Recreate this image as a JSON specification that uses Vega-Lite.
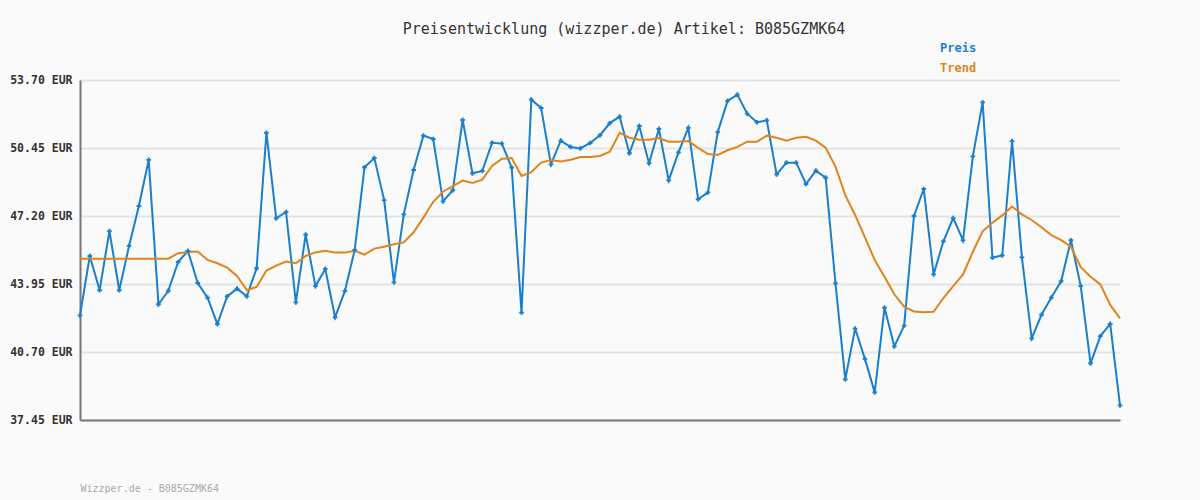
{
  "$schema": "https://vega.github.io/schema/vega-lite/v6.json",
  "width": 1040,
  "height": 340,
  "autosize": {"type": "none"},
  "padding": {"left": 80, "top": 80, "right": 80, "bottom": 80},
  "background": "#fafafa",
  "title": {
    "text": "Preisentwicklung (wizzper.de) Artikel: B085GZMK64",
    "font": "DejaVu Sans Mono",
    "fontSize": 15,
    "fontWeight": "normal",
    "color": "#333333",
    "anchor": "middle",
    "frame": "group",
    "baseline": "alphabetic",
    "offset": -7,
    "dx": 24
  },
  "config": {
    "view": {"stroke": null},
    "font": "DejaVu Sans Mono"
  },
  "data": {
    "values": [
      {"i":0,"Preis":42.45,"Trend":45.16},{"i":1,"Preis":45.29,"Trend":45.16},{"i":2,"Preis":43.65,"Trend":45.16},{"i":3,"Preis":46.48,"Trend":45.16},{"i":4,"Preis":43.65,"Trend":45.16},{"i":5,"Preis":45.77,"Trend":45.16},{"i":6,"Preis":47.68,"Trend":45.16},{"i":7,"Preis":49.88,"Trend":45.16},{"i":8,"Preis":42.98,"Trend":45.16},{"i":9,"Preis":43.62,"Trend":45.16},
      {"i":10,"Preis":45.00,"Trend":45.42},{"i":11,"Preis":45.53,"Trend":45.48},{"i":12,"Preis":44.00,"Trend":45.50},{"i":13,"Preis":43.30,"Trend":45.10},{"i":14,"Preis":42.04,"Trend":44.94},{"i":15,"Preis":43.36,"Trend":44.73},{"i":16,"Preis":43.73,"Trend":44.33},{"i":17,"Preis":43.36,"Trend":43.66},{"i":18,"Preis":44.70,"Trend":43.81},{"i":19,"Preis":51.18,"Trend":44.59},
      {"i":20,"Preis":47.09,"Trend":44.83},{"i":21,"Preis":47.39,"Trend":45.02},{"i":22,"Preis":43.07,"Trend":44.94},{"i":23,"Preis":46.31,"Trend":45.29},{"i":24,"Preis":43.85,"Trend":45.46},{"i":25,"Preis":44.67,"Trend":45.54},{"i":26,"Preis":42.36,"Trend":45.45},{"i":27,"Preis":43.62,"Trend":45.45},{"i":28,"Preis":45.58,"Trend":45.54},{"i":29,"Preis":49.53,"Trend":45.35},
      {"i":30,"Preis":49.97,"Trend":45.64},{"i":31,"Preis":47.96,"Trend":45.73},{"i":32,"Preis":44.03,"Trend":45.85},{"i":33,"Preis":47.28,"Trend":45.94},{"i":34,"Preis":49.40,"Trend":46.42},{"i":35,"Preis":51.04,"Trend":47.12},{"i":36,"Preis":50.88,"Trend":47.88},{"i":37,"Preis":47.90,"Trend":48.36},{"i":38,"Preis":48.43,"Trend":48.63},{"i":39,"Preis":51.79,"Trend":48.89},
      {"i":40,"Preis":49.24,"Trend":48.78},{"i":41,"Preis":49.35,"Trend":48.94},{"i":42,"Preis":50.70,"Trend":49.59},{"i":43,"Preis":50.66,"Trend":49.94},{"i":44,"Preis":49.51,"Trend":49.97},{"i":45,"Preis":42.58,"Trend":49.11},{"i":46,"Preis":52.76,"Trend":49.30},{"i":47,"Preis":52.36,"Trend":49.75},{"i":48,"Preis":49.67,"Trend":49.88},{"i":49,"Preis":50.80,"Trend":49.80},
      {"i":50,"Preis":50.50,"Trend":49.89},{"i":51,"Preis":50.43,"Trend":50.02},{"i":52,"Preis":50.69,"Trend":50.02},{"i":53,"Preis":51.06,"Trend":50.07},{"i":54,"Preis":51.64,"Trend":50.27},{"i":55,"Preis":51.95,"Trend":51.18},{"i":56,"Preis":50.20,"Trend":50.94},{"i":57,"Preis":51.50,"Trend":50.85},{"i":58,"Preis":49.72,"Trend":50.85},{"i":59,"Preis":51.36,"Trend":50.93},
      {"i":60,"Preis":48.90,"Trend":50.75},{"i":61,"Preis":50.24,"Trend":50.75},{"i":62,"Preis":51.41,"Trend":50.78},{"i":63,"Preis":48.00,"Trend":50.46},{"i":64,"Preis":48.33,"Trend":50.16},{"i":65,"Preis":51.21,"Trend":50.12},{"i":66,"Preis":52.70,"Trend":50.34},{"i":67,"Preis":53.00,"Trend":50.50},{"i":68,"Preis":52.09,"Trend":50.75},{"i":69,"Preis":51.68,"Trend":50.75},
      {"i":70,"Preis":51.77,"Trend":51.04},{"i":71,"Preis":49.19,"Trend":50.94},{"i":72,"Preis":49.75,"Trend":50.80},{"i":73,"Preis":49.75,"Trend":50.94},{"i":74,"Preis":48.73,"Trend":50.99},{"i":75,"Preis":49.37,"Trend":50.80},{"i":76,"Preis":49.03,"Trend":50.46},{"i":77,"Preis":43.98,"Trend":49.56},{"i":78,"Preis":39.39,"Trend":48.20},{"i":79,"Preis":41.82,"Trend":47.25},
      {"i":80,"Preis":40.37,"Trend":46.18},{"i":81,"Preis":38.77,"Trend":45.10},{"i":82,"Preis":42.82,"Trend":44.30},{"i":83,"Preis":40.97,"Trend":43.46},{"i":84,"Preis":41.96,"Trend":42.87},{"i":85,"Preis":47.20,"Trend":42.64},{"i":86,"Preis":48.49,"Trend":42.60},{"i":87,"Preis":44.41,"Trend":42.62},{"i":88,"Preis":45.99,"Trend":43.28},{"i":89,"Preis":47.10,"Trend":43.85},
      {"i":90,"Preis":46.04,"Trend":44.41},{"i":91,"Preis":50.05,"Trend":45.49},{"i":92,"Preis":52.63,"Trend":46.47},{"i":93,"Preis":45.21,"Trend":46.88},{"i":94,"Preis":45.32,"Trend":47.23},{"i":95,"Preis":50.78,"Trend":47.65},{"i":96,"Preis":45.22,"Trend":47.28},{"i":97,"Preis":41.35,"Trend":47.01},{"i":98,"Preis":42.48,"Trend":46.66},{"i":99,"Preis":43.30,"Trend":46.29},
      {"i":100,"Preis":44.08,"Trend":46.05},{"i":101,"Preis":46.04,"Trend":45.73},{"i":102,"Preis":43.85,"Trend":44.75},{"i":103,"Preis":40.16,"Trend":44.30},{"i":104,"Preis":41.46,"Trend":43.93},{"i":105,"Preis":42.04,"Trend":42.95},{"i":106,"Preis":38.15,"Trend":42.31}
    ]
  },
  "transform": [{"fold": ["Preis", "Trend"], "as": ["Serie", "Wert"]}],
  "encoding": {
    "x": {
      "field": "i",
      "type": "quantitative",
      "scale": {"domain": [0, 106], "nice": false, "zero": false},
      "axis": {
        "labels": false,
        "ticks": false,
        "grid": false,
        "domainColor": "#777777",
        "domainWidth": 2,
        "title": "Wizzper.de - B085GZMK64",
        "titleFont": "DejaVu Sans Mono",
        "titleFontSize": 10,
        "titleFontWeight": "normal",
        "titleColor": "#aaaaaa",
        "titleAnchor": "start",
        "titleAlign": "left",
        "titleBaseline": "alphabetic",
        "titleX": 0,
        "titleY": 71
      }
    },
    "y": {
      "field": "Wert",
      "type": "quantitative",
      "scale": {"domain": [37.45, 53.70], "nice": false, "zero": false},
      "axis": {
        "values": [37.45, 40.70, 43.95, 47.20, 50.45, 53.70],
        "labelExpr": "format(datum.value, '.2f') + ' EUR'",
        "title": null,
        "ticks": false,
        "grid": true,
        "gridColor": "#e4e4e4",
        "gridWidth": 2,
        "domainColor": "#777777",
        "domainWidth": 2,
        "labelFont": "DejaVu Sans Mono",
        "labelFontWeight": "bold",
        "labelFontSize": 11.5,
        "labelColor": "#333333",
        "labelPadding": 8
      }
    },
    "color": {
      "field": "Serie",
      "type": "nominal",
      "scale": {"domain": ["Preis", "Trend"], "range": ["#1a7fcc", "#e0841c"]},
      "legend": {
        "title": null,
        "orient": "none",
        "legendX": 848,
        "legendY": -38,
        "symbolSize": 0,
        "symbolOpacity": 0,
        "symbolStrokeWidth": 0,
        "labelOffset": 0,
        "labelFont": "DejaVu Sans Mono",
        "labelFontWeight": "bold",
        "labelFontSize": 12,
        "rowPadding": 8,
        "encode": {"labels": {"update": {"fill": {"scale": "color", "field": "value"}}}}
      }
    }
  },
  "layer": [
    {"mark": {"type": "line", "strokeWidth": 2}},
    {
      "transform": [{"filter": "datum.Serie === 'Preis'"}],
      "mark": {"type": "point", "shape": "cross", "size": 22, "filled": true, "opacity": 1, "color": "#1670b8"}
    }
  ]
}
